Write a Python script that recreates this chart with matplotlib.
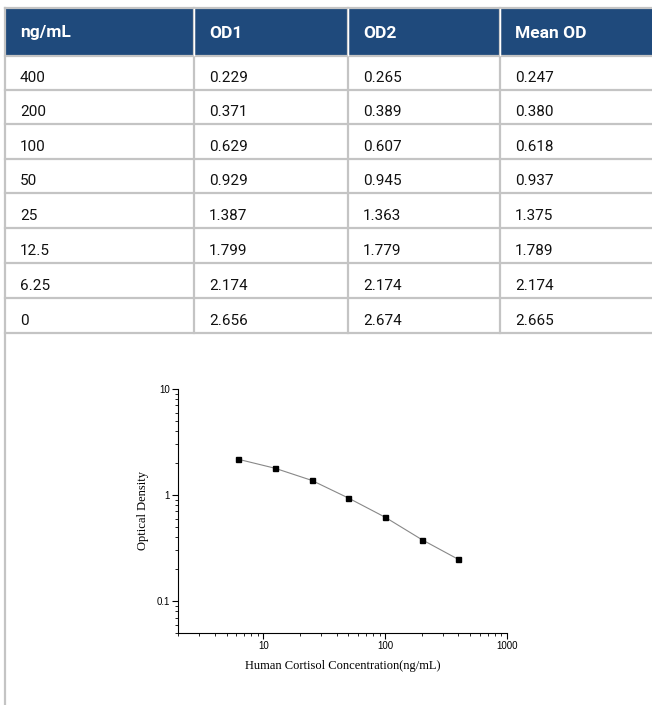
import numpy as np
import matplotlib
matplotlib.use('Agg')
import matplotlib.pyplot as plt
from matplotlib.patches import Rectangle
from matplotlib.ticker import FixedLocator, LogLocator, NullFormatter

# standard curve data
headers = ['ng/mL', 'OD1', 'OD2', 'Mean OD']
conc_labels = ['400', '200', '100', '50', '25', '12.5', '6.25', '0']
od1 = ['0.229', '0.371', '0.629', '0.929', '1.387', '1.799', '2.174', '2.656']
od2 = ['0.265', '0.389', '0.607', '0.945', '1.363', '1.779', '2.174', '2.674']
mean_od = ['0.247', '0.380', '0.618', '0.937', '1.375', '1.789', '2.174', '2.665']

W, H = 652, 705
fig = plt.figure(figsize=(W / 100, H / 100), dpi=100)

# table drawn in pixel coordinates
tab = fig.add_axes([0, 0, 1, 1])
tab.set_xlim(0, W)
tab.set_ylim(H, 0)
tab.axis('off')

grid = '#c4c4c4'
head_col = '#1f4a7c'
col_x = [5, 194, 348, 500, W]
row_y = [56, 90, 124, 159, 193, 228, 263, 298, 333]

tab.add_patch(Rectangle((5, 9), W - 5, 47, facecolor=head_col, edgecolor='none'))
tab.plot([5, W], [8, 8], color=grid, lw=1.6)
tab.plot([5, 5], [8, H], color=grid, lw=1.6)
for y in row_y:
    tab.plot([5, W], [y, y], color=grid, lw=1.6)
for x in col_x[1:-1]:
    tab.plot([x, x], [8, row_y[-1]], color=grid, lw=1.6)
    tab.plot([x, x], [9, 55], color='white', lw=1.0)

for j, h in enumerate(headers):
    tab.text(col_x[j] + 15, 33, h, color='white', fontsize=12.5, fontweight='bold',
             family=['Roboto', 'DejaVu Sans'], va='center', ha='left')

cols = [conc_labels, od1, od2, mean_od]
for i in range(len(conc_labels)):
    yb = row_y[i + 1]
    for j, c in enumerate(cols):
        tab.text(col_x[j] + 15, yb - 12, c[i], color='#111111', fontsize=11,
                 family=['Roboto', 'DejaVu Sans'], va='center', ha='left')

# standard curve plot
x = np.array([float(v) for v in conc_labels[:-1]])
y = np.array([float(v) for v in mean_od[:-1]])

ax = fig.add_axes([178 / W, 1 - 633 / H, (507 - 178) / W, (633 - 389) / H])
ax.set_xscale('log')
ax.set_yscale('log')
ax.plot(x, y, color='#888888', lw=0.8, zorder=2)
ax.plot(x, y, 's', color='black', ms=3.6, zorder=3)
ax.set_xlim(2, 1000)
ax.set_ylim(0.05, 10)

for s in ['top', 'right']:
    ax.spines[s].set_visible(False)
for s in ['left', 'bottom']:
    ax.spines[s].set_linewidth(0.8)

ax.xaxis.set_major_locator(FixedLocator([10, 100, 1000]))
ax.set_xticklabels(['10', '100', '1000'])
ax.yaxis.set_major_locator(FixedLocator([0.1, 1, 10]))
ax.set_yticklabels(['0.1', '1', '10'])
ax.xaxis.set_minor_locator(LogLocator(base=10, subs=np.arange(2, 10)))
ax.yaxis.set_minor_locator(LogLocator(base=10, subs=np.arange(2, 10)))
ax.xaxis.set_minor_formatter(NullFormatter())
ax.yaxis.set_minor_formatter(NullFormatter())
ax.tick_params(which='major', length=4, width=0.8, labelsize=7, pad=2)
ax.tick_params(which='minor', length=2, width=0.6)
for lab in ax.get_xticklabels() + ax.get_yticklabels():
    lab.set_family(['Liberation Sans', 'DejaVu Sans'])

ax.set_xlabel('Human Cortisol Concentration(ng/mL)', family=['Liberation Serif', 'DejaVu Serif'],
              fontsize=9, labelpad=6)
ax.set_ylabel('Optical Density', family=['Liberation Serif', 'DejaVu Serif'],
              fontsize=9, labelpad=5)

fig.savefig('out.png', dpi=100)
